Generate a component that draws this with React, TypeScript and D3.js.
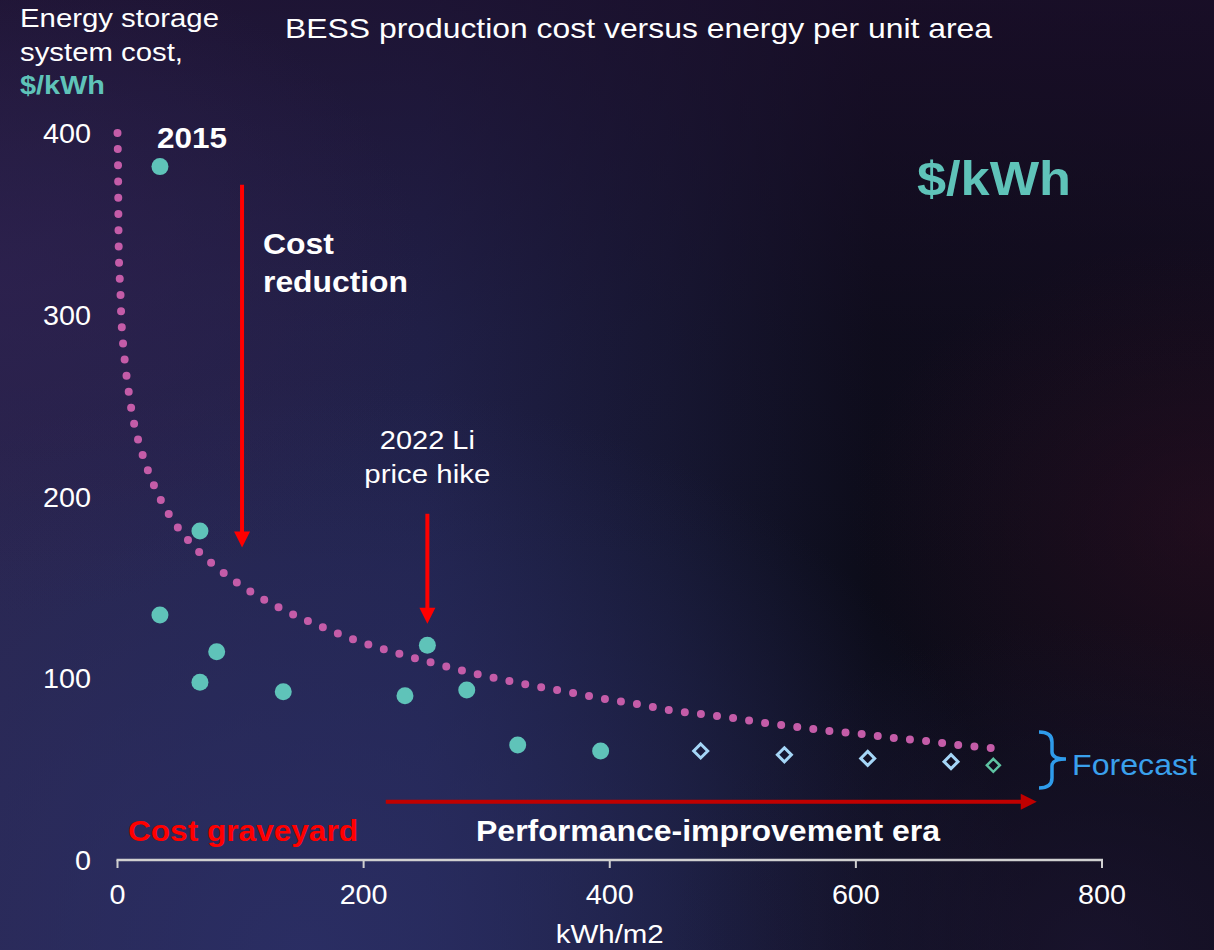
import React from "react";
import * as d3 from "d3";

const W = 1214;
const H = 950;

// Measured data (kWh/m2, $/kWh)
const actualX = [34.5, 67, 34.5, 80.6, 67, 134.7, 233.6, 251.8, 283.8, 325.2, 392.6];
const actualY = [381.5, 181, 134.8, 114.6, 97.8, 92.6, 90.4, 118.1, 93.5, 63.3, 60];
const forecastX = [473.9, 541.9, 609.6, 677.3];
const forecastY = [60, 57.9, 55.9, 54.1];
const forecastGreenX = [711.7];
const forecastGreenY = [52.1];

const trendX = [0, 0.4, 1.2, 2.4, 3.4, 5.7, 8.9, 13.2, 19.9, 28.8, 41, 56.5, 75.2, 96.3, 118.2, 141.8, 166.2, 190.6, 215.7, 240.9, 266.1, 292, 318.1, 343.2, 370, 396.1, 422.1, 448.1, 474.1, 500.1, 526.1, 552.1, 578.1, 604.9, 630.9, 656.9, 682.9, 709.7];
const trendY = [400, 383.5, 330, 312, 294, 276, 258.6, 241, 224, 207.4, 191, 176.6, 164, 153, 143.6, 135.4, 128.2, 121.7, 116.1, 111.2, 106.7, 102.3, 98.5, 95.2, 91.9, 88.6, 85.8, 82.5, 80.3, 78.1, 75.4, 73.2, 71, 69.3, 67.1, 65.5, 63.3, 61.6];

const xTicks = [0, 200, 400, 600, 800];
const yTicks = [0, 100, 200, 300, 400];

const FONT = "'Liberation Sans', Arial, Helvetica, sans-serif";
const TEAL = "#5fc3b9";

export default function App() {
  const x = d3.scaleLinear().domain([0, 800]).range([117.5, 1102]);
  const y = d3.scaleLinear().domain([0, 400]).range([860, 133]);

  const trendPath =
    d3
      .line<number>()
      .x((_, i) => x(trendX[i]))
      .y((d) => y(d))
      .curve(d3.curveCatmullRom)(trendY as any) || "";

  const diamond = (cx: number, cy: number, r: number) =>
    `M${cx},${cy - r}L${cx + r},${cy}L${cx},${cy + r}L${cx - r},${cy}Z`;

  // annotation anchors (data units)
  const crX = x(101.2);
  const crTop = y(371.5);
  const crTip = y(172);
  const liX = x(251.8);
  const liTop = y(190.5);
  const liTip = y(130);
  const hY = y(32);
  const hX0 = x(218);
  const hX1 = x(747);

  const T = (props: any) => <text lengthAdjust="spacingAndGlyphs" {...props} />;
  const tickLen = (t: number) => String(t).length * 16;

  return (
    <svg
      width={W}
      height={H}
      style={{ position: "absolute", left: 0, top: 0, display: "block" }}
      fontFamily={FONT}
    >
      <defs>
        <linearGradient id="bgH" x1="0" y1="0" x2="1" y2="0">
          <stop offset="0" stopColor="#29264f" />
          <stop offset="0.35" stopColor="#21234d" />
          <stop offset="0.55" stopColor="#161833" />
          <stop offset="0.72" stopColor="#0c0c19" />
          <stop offset="1" stopColor="#0e0b17" />
        </linearGradient>
        <linearGradient id="bgV" x1="0" y1="0" x2="0" y2="1">
          <stop offset="0" stopColor="#1c0f2c" stopOpacity="0.75" />
          <stop offset="0.35" stopColor="#1c0f2c" stopOpacity="0.2" />
          <stop offset="0.6" stopColor="#1c0f2c" stopOpacity="0" />
        </linearGradient>
        <radialGradient id="bgBL" cx="0.25" cy="1" r="0.6">
          <stop offset="0" stopColor="#2c3068" stopOpacity="0.8" />
          <stop offset="1" stopColor="#2c3068" stopOpacity="0" />
        </radialGradient>
        <radialGradient id="bgTL" cx="0" cy="0.3" r="0.35">
          <stop offset="0" stopColor="#2e2150" stopOpacity="0.7" />
          <stop offset="1" stopColor="#2e2150" stopOpacity="0" />
        </radialGradient>
        <radialGradient id="bgR" cx="1" cy="0.55" r="0.3">
          <stop offset="0" stopColor="#3a1026" stopOpacity="0.4" />
          <stop offset="1" stopColor="#3a1026" stopOpacity="0" />
        </radialGradient>
        <radialGradient id="bgBR" cx="0.9" cy="1" r="0.35">
          <stop offset="0" stopColor="#1d1634" stopOpacity="0.7" />
          <stop offset="1" stopColor="#1d1634" stopOpacity="0" />
        </radialGradient>
      </defs>
      <rect width={W} height={H} fill="url(#bgH)" />
      <rect width={W} height={H} fill="url(#bgV)" />
      <rect width={W} height={H} fill="url(#bgBL)" />
      <rect width={W} height={H} fill="url(#bgTL)" />
      <rect width={W} height={H} fill="url(#bgR)" />
      <rect width={W} height={H} fill="url(#bgBR)" />

      {/* Titles */}
      <T x={20} y={27} fill="#ffffff" fontSize={26} textLength={199}>Energy storage</T>
      <T x={20} y={61} fill="#ffffff" fontSize={26} textLength={163}>system cost,</T>
      <T x={20} y={94} fill={TEAL} fontSize={26} fontWeight="bold" textLength={85}>$/kWh</T>
      <T x={285} y={38} fill="#ffffff" fontSize={28} textLength={707}>BESS production cost versus energy per unit area</T>
      <T x={917} y={195} fill={TEAL} fontSize={48} fontWeight="bold" textLength={154}>$/kWh</T>

      {/* Y tick labels */}
      {yTicks.map((t) => (
        <T key={t} x={91} y={y(t) + 10} textAnchor="end" fill="#ffffff" fontSize={27} textLength={tickLen(t)}>
          {t}
        </T>
      ))}

      {/* X axis */}
      <line x1={x(0) - 1} x2={x(800) + 1} y1={860} y2={860} stroke="#d0d0d0" strokeWidth={2.5} />
      {xTicks.map((t) => (
        <g key={t}>
          <line x1={x(t)} x2={x(t)} y1={860} y2={868} stroke="#d0d0d0" strokeWidth={2} />
          <T x={x(t)} y={904} textAnchor="middle" fill="#ffffff" fontSize={27} textLength={tickLen(t)}>
            {t}
          </T>
        </g>
      ))}
      <T x={x(400)} y={943} textAnchor="middle" fill="#ffffff" fontSize={26} textLength={108}>kWh/m2</T>

      {/* Trend dotted curve */}
      <path
        d={trendPath}
        fill="none"
        stroke="#c45ca8"
        strokeWidth={8}
        strokeLinecap="round"
        strokeDasharray="0 16.2"
      />

      {/* Actual points */}
      {actualX.map((d, i) => (
        <circle key={i} cx={x(d)} cy={y(actualY[i])} r={8.5} fill={TEAL} />
      ))}
      {/* Forecast diamonds */}
      {forecastX.map((d, i) => (
        <path key={i} d={diamond(x(d), y(forecastY[i]), 7)} fill="none" stroke="#a5d6f7" strokeWidth={3} />
      ))}
      {forecastGreenX.map((d, i) => (
        <path key={i} d={diamond(x(d), y(forecastGreenY[i]), 6.5)} fill="none" stroke="#5ec3a2" strokeWidth={2.5} />
      ))}

      {/* Annotations */}
      <T x={157} y={148} fill="#ffffff" fontSize={30} fontWeight="bold" textLength={70}>2015</T>

      <line x1={crX} x2={crX} y1={crTop} y2={crTip - 14} stroke="#ff0000" strokeWidth={4} />
      <path d={`M${crX - 8},${crTip - 16}L${crX + 8},${crTip - 16}L${crX},${crTip}Z`} fill="#ff0000" />
      <T x={263} y={254} fill="#ffffff" fontSize={29} fontWeight="bold" textLength={71}>Cost</T>
      <T x={263} y={292} fill="#ffffff" fontSize={29} fontWeight="bold" textLength={145}>reduction</T>

      <T x={liX} y={449} textAnchor="middle" fill="#ffffff" fontSize={26} textLength={95}>2022 Li</T>
      <T x={liX} y={483} textAnchor="middle" fill="#ffffff" fontSize={26} textLength={126}>price hike</T>
      <line x1={liX} x2={liX} y1={liTop} y2={liTip - 14} stroke="#ff0000" strokeWidth={4} />
      <path d={`M${liX - 8},${liTip - 16}L${liX + 8},${liTip - 16}L${liX},${liTip}Z`} fill="#ff0000" />

      <line x1={hX0} x2={hX1 - 14} y1={hY} y2={hY} stroke="#c00000" strokeWidth={4} />
      <path d={`M${hX1 - 16},${hY - 8}L${hX1 - 16},${hY + 8}L${hX1},${hY}Z`} fill="#c00000" />

      <T x={128} y={841} fill="#ff0000" fontSize={29} fontWeight="bold" textLength={230}>Cost graveyard</T>
      <T x={476} y={841} fill="#ffffff" fontSize={29} fontWeight="bold" textLength={464}>Performance-improvement era</T>

      {/* Forecast bracket */}
      <path
        d="M1039,732 Q1052,732 1052,742 L1052,752 Q1052,759 1066,759 Q1052,759 1052,766 L1052,778 Q1052,788 1039,788"
        fill="none"
        stroke="#2f9ceb"
        strokeWidth={3.5}
      />
      <T x={1072} y={775} fill="#3aa0ec" fontSize={29} textLength={125}>Forecast</T>
    </svg>
  );
}
